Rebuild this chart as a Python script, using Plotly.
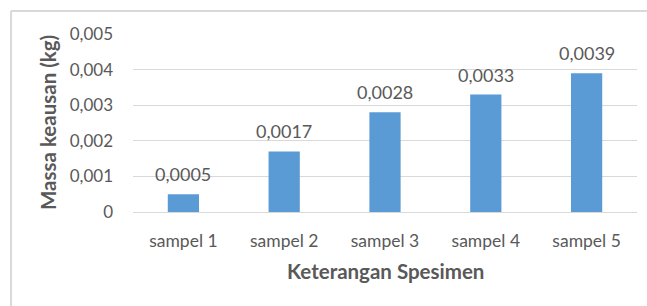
import plotly.graph_objects as go

categories = ["sampel 1", "sampel 2", "sampel 3", "sampel 4", "sampel 5"]
values = [0.0005, 0.0017, 0.0028, 0.0033, 0.0039]
value_labels = ["0,0005", "0,0017", "0,0028", "0,0033", "0,0039"]
tick_vals = [0, 0.001, 0.002, 0.003, 0.004, 0.005]
tick_text = ["0", "0,001", "0,002", "0,003", "0,004", "0,005"]
x_title = "Keterangan Spesimen"
y_title = "Massa keausan (kg)"

FONT = "Lato, Open Sans, sans-serif"
GRAY = "#595959"

fig = go.Figure()
fig.add_trace(go.Bar(x=categories, y=values, marker=dict(color="#5B9BD5", line=dict(width=0)),
                     width=0.31))

for c, v, t in zip(categories, values, value_labels):
    fig.add_annotation(x=c, y=v, text=t, showarrow=False, yanchor="middle", yshift=20,
                       font=dict(family=FONT, size=18, color=GRAY))

fig.add_annotation(xref="paper", yref="paper", x=0.5, y=0, yshift=-59, text="<b>" + x_title + "</b>",
                   showarrow=False, xanchor="center", yanchor="middle",
                   font=dict(family=FONT, size=20.5, color=GRAY))
fig.add_annotation(xref="paper", yref="paper", x=0, y=0.5, xshift=-85, text="<b>" + y_title + "</b>",
                   showarrow=False, xanchor="center", yanchor="middle", textangle=-90,
                   font=dict(family=FONT, size=20.5, color=GRAY))

# outer chart frame (partially cropped)
fig.add_shape(type="line", xref="paper", yref="paper", x0=-0.242, x1=1.05, y0=1.129, y1=1.129,
              line=dict(color="#D9D9D9", width=2))
fig.add_shape(type="line", xref="paper", yref="paper", x0=-0.242, x1=-0.242, y0=1.129, y1=-0.7,
              line=dict(color="#D9D9D9", width=2))

fig.update_layout(
    width=647, height=306,
    margin=dict(l=133, r=10, t=34, b=94),
    paper_bgcolor="white", plot_bgcolor="white",
    showlegend=False,
    font=dict(family=FONT, size=17, color=GRAY),
    xaxis=dict(showgrid=False, showline=True, linecolor="#D9D9D9", linewidth=1, automargin=False,
               tickfont=dict(family=FONT, size=17.5, color=GRAY), ticks="", ticklabelstandoff=13),
    yaxis=dict(range=[0, 0.005], tickvals=tick_vals, ticktext=tick_text, showgrid=True, automargin=False,
               gridcolor="#D9D9D9", gridwidth=1, zeroline=False, ticks="",
               tickfont=dict(family=FONT, size=17, color=GRAY), ticklabelstandoff=19),
)

fig.write_html("out.html", config={"displayModeBar": False},
               post_script="document.body.style.margin='0';")
